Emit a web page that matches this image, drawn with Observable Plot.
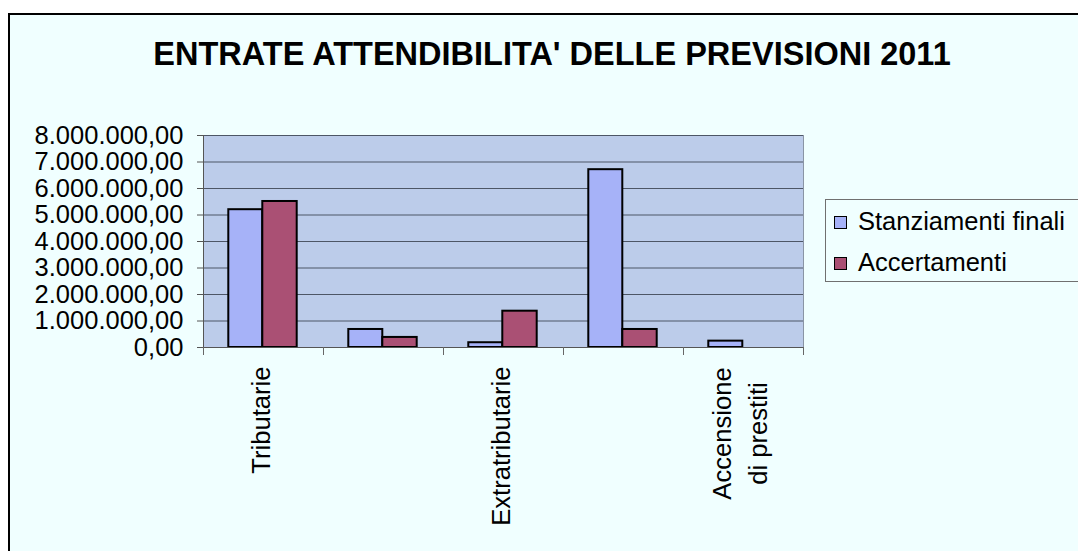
<!DOCTYPE html>
<html>
<head>
<meta charset="utf-8">
<script src="https://cdn.jsdelivr.net/npm/d3@7"></script>
<script src="https://cdn.jsdelivr.net/npm/@observablehq/plot@0.6"></script>
<style>
  html, body { margin: 0; padding: 0; background: #ffffff; overflow: hidden; width: 1078px; height: 551px; }
  #frame { position: absolute; left: 8px; top: 13px; width: 1100px; height: 600px;
           border-left: 2px solid #000; border-top: 2px solid #000; background: #F0FFFF; }
  .abs { position: absolute; }
  #title { left: 0; top: 36px; width: 1100px; text-align: center; font: bold 32.5px "Liberation Sans", Arial, sans-serif;
           line-height: 32px; color: #000; white-space: nowrap; }
  #legend { left: 825px; top: 199px; width: 300px; height: 83px; border: 1px solid #707070; box-sizing: border-box; }
  .item { position: absolute; left: 0; font: 25.5px "Liberation Sans", Arial, sans-serif; line-height: 30px; color: #000; white-space: nowrap; }
  .sw { position: absolute; width: 11px; height: 11px; border: 1.5px solid #000; }
</style>
</head>
<body>
<div id="page"></div>
<script>
// ---- data ----
const categories = ["Tributarie", "Contributi e trasferimenti", "Extratributarie", "Alienazioni e trasferimenti di capitale", "Accensione di prestiti"];
const tickLabels = ["Tributarie", "", "Extratributarie", "", "Accensione\ndi prestiti"];
const seriesNames = ["Stanziamenti finali", "Accertamenti"];
const seriesColors = ["#A6B2F8", "#AA5074"];
const stanziamenti = [5200000, 680000, 180000, 6710000, 240000];
const accertamenti = [5510000, 380000, 1370000, 680000, 0];
const yTicks = [0, 1000000, 2000000, 3000000, 4000000, 5000000, 6000000, 7000000, 8000000];
const title = "ENTRATE ATTENDIBILITA' DELLE PREVISIONI 2011";

// ---- build ----
const itLocale = d3.formatLocale({decimal: ",", thousands: ".", grouping: [3], currency: ["€", ""]});
const itFmt = itLocale.format(",.2f");

const rowsS = categories.map((c, i) => ({cat: c, idx: i, value: stanziamenti[i]})).filter(d => d.value > 0);
const rowsA = categories.map((c, i) => ({cat: c, idx: i, value: accertamenti[i]})).filter(d => d.value > 0);
const labelRows = tickLabels.map((l, i) => ({label: l, idx: i})).filter(d => d.label !== "");
const singleLabels = labelRows.filter(d => !d.label.includes("\n"));
const multiLabels = labelRows.filter(d => d.label.includes("\n"));
const xTicks = d3.range(categories.length + 1);

const plot = Plot.plot({
  width: 820,
  height: 451,
  marginLeft: 203,
  marginRight: 17,
  marginTop: 35,
  marginBottom: 204,
  x: {domain: [0, categories.length], label: null},
  y: {domain: [0, 8000000], label: null},
  style: {background: "transparent", fontFamily: "'Liberation Sans', Arial, sans-serif", fontSize: "25.5px", color: "#000", overflow: "visible"},
  marks: [
    Plot.frame({fill: "#BCCCEA", stroke: "#8a95a5"}),
    Plot.ruleY(yTicks, {stroke: "#4d5666", strokeWidth: 1.2}),
    Plot.rectY(rowsS, {x1: d => d.idx, x2: d => d.idx + 1, y1: 0, y2: "value", insetLeft: 25.3, insetRight: 60.7,
                       fill: seriesColors[0], stroke: "#000", strokeWidth: 2}),
    Plot.rectY(rowsA, {x1: d => d.idx, x2: d => d.idx + 1, y1: 0, y2: "value", insetLeft: 59.3, insetRight: 26.3,
                       fill: seriesColors[1], stroke: "#000", strokeWidth: 2}),
    Plot.ruleX([0], {stroke: "#555"}),
    Plot.ruleY([0], {stroke: "#555", strokeWidth: 1.2}),
    Plot.axisY({ticks: yTicks, tickFormat: itFmt, tickSize: 6, tickPadding: 14, stroke: "#555", fill: "#000", fontSize: 25.5}),
    Plot.axisX({ticks: xTicks, tickFormat: () => "", tickSize: 8, stroke: "#666"}),
    Plot.text(singleLabels, {x: d => d.idx + 0.5, text: "label", frameAnchor: "bottom", rotate: -90, textAnchor: "end",
                             dx: 6, dy: 19, fontSize: 25.6, fill: "#000"}),
    Plot.text(multiLabels, {x: d => d.idx + 0.5, text: "label", frameAnchor: "bottom", rotate: -90, textAnchor: "middle",
                            lineHeight: 1.37, dx: 23, dy: 86, fontSize: 25.6, fill: "#000"})
  ]
});

const page = document.getElementById("page");
const frame = document.createElement("div");
frame.id = "frame";
page.appendChild(frame);

const t = document.createElement("div");
t.id = "title"; t.className = "abs"; t.textContent = title;
t.style.left = "-8px"; t.style.top = (36 - 13) + "px";
t.style.width = "1100px";
frame.appendChild(t);

const holder = document.createElement("div");
holder.className = "abs";
holder.style.left = "-10px"; holder.style.top = (100 - 15) + "px";
holder.appendChild(plot);
frame.appendChild(holder);

const legend = document.createElement("div");
legend.id = "legend"; legend.className = "abs";
legend.style.left = (825 - 10) + "px"; legend.style.top = (199 - 15) + "px";
seriesNames.forEach((name, i) => {
  const sw = document.createElement("div");
  sw.className = "sw";
  sw.style.background = seriesColors[i];
  sw.style.left = (834 - 826) + "px";
  sw.style.top = ((i === 0 ? 216 : 257) - 200) + "px";
  legend.appendChild(sw);
  const it = document.createElement("div");
  it.className = "item";
  it.textContent = name;
  it.style.left = (858 - 826) + "px";
  it.style.top = ((i === 0 ? 205.5 : 246.9) - 200) + "px";
  legend.appendChild(it);
});
frame.appendChild(legend);
</script>
</body>
</html>
